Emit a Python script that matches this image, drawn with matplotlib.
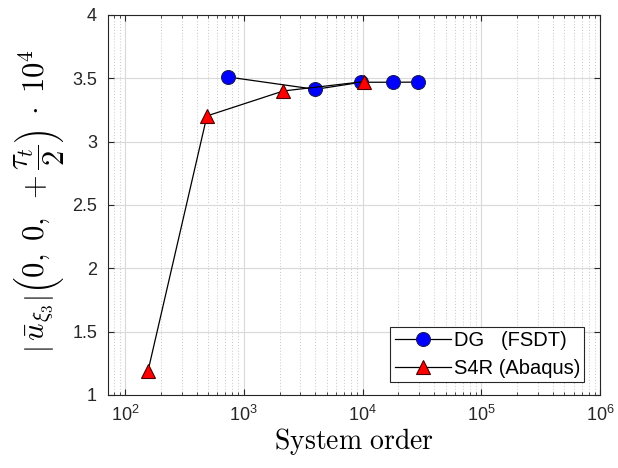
import numpy as np
import matplotlib.pyplot as plt
from matplotlib.ticker import LogLocator, NullFormatter

# Data
dg_order = [740, 4010, 9770, 18150, 29500]
dg_disp = [3.51, 3.413, 3.469, 3.469, 3.47]

s4r_order = [156, 489, 2150, 10250]
s4r_disp = [1.19, 3.203, 3.40, 3.474]

plt.rcParams['font.family'] = ['Liberation Sans', 'DejaVu Sans']
plt.rcParams['mathtext.fontset'] = 'cm'

fig = plt.figure(figsize=(6.18, 4.68), dpi=100)
ax = fig.add_axes([0.175, 0.156, 0.796, 0.812])

ax.plot(dg_order, dg_disp, color='black', linewidth=0.9, marker='o',
        markersize=10, markerfacecolor='#0000ff', markeredgecolor='#1a1a5a',
        markeredgewidth=0.8, label='DG   (FSDT)', zorder=3)
ax.plot(s4r_order, s4r_disp, color='black', linewidth=0.9, marker='^',
        markersize=10, markerfacecolor='#ff0000', markeredgecolor='#4a0000',
        markeredgewidth=0.8, label='S4R (Abaqus)', zorder=3)

ax.set_xscale('log')
ax.set_xlim(72, 1e6)
ax.set_ylim(1, 4)
ax.set_yticks([1, 1.5, 2, 2.5, 3, 3.5, 4])
ax.set_yticklabels(['1', '1.5', '2', '2.5', '3', '3.5', '4'])
ax.xaxis.set_major_locator(LogLocator(base=10, numticks=10))
ax.xaxis.set_minor_locator(LogLocator(base=10, subs=np.arange(2, 10), numticks=50))
ax.xaxis.set_minor_formatter(NullFormatter())

ax.grid(which='major', color='#d9d9d9', linewidth=0.8, linestyle='-')
ax.grid(which='minor', axis='x', color='#c8c8c8', linewidth=0.7, linestyle=(0, (1, 2)))
ax.set_axisbelow(True)

ax.tick_params(which='both', direction='in', top=True, right=True,
               labelsize=13, colors='#262626', labelcolor='#262626')
ax.tick_params(which='major', length=4)
ax.tick_params(axis='y', pad=8)
ax.tick_params(axis='x', pad=7)
ax.tick_params(which='minor', length=2)
for sp in ax.spines.values():
    sp.set_color('#262626')
    sp.set_linewidth(0.8)

ax.set_xlabel(r'$\mathrm{System\ order}$', fontsize=20, labelpad=1)
ax.set_ylabel(r'$\left|\,\bar{u}_{\xi_3}\right|\left(0,\;0,\;+\dfrac{\tau_t}{2}\right)\;\cdot\;10^4$',
              fontsize=22)
ax.yaxis.set_label_coords(-0.085, 0.51)

leg = ax.legend(loc='lower right', fontsize=14.5, frameon=True, fancybox=False,
                edgecolor='#262626', framealpha=1, borderpad=0.2,
                labelspacing=0.45, handlelength=2.8, handletextpad=0.15,
                borderaxespad=0.0, bbox_to_anchor=(0.968, 0.035))
leg.get_frame().set_linewidth(0.8)

fig.savefig('out.png', dpi=100)
